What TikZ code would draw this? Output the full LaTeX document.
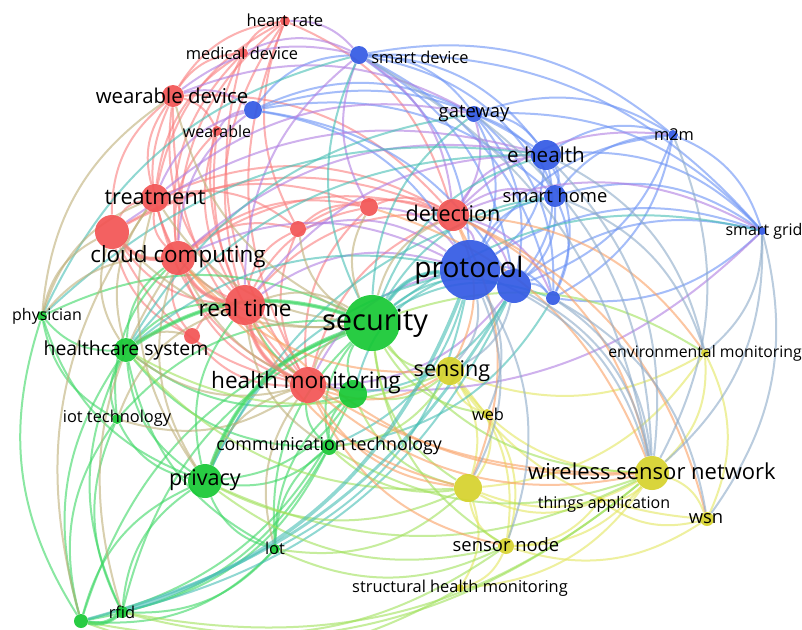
\documentclass[tikz,border=0pt]{standalone}
\usepackage{fontspec}
\setmainfont{Open Sans}
\usepackage{tikz}
\usetikzlibrary{calc}
\usetikzlibrary{backgrounds}

\definecolor{redN}{RGB}{243,84,84}
\definecolor{blueN}{RGB}{50,90,228}
\definecolor{greenN}{RGB}{22,200,52}
\definecolor{yellowN}{RGB}{214,210,44}
\definecolor{redE}{RGB}{250,125,125}
\definecolor{blueE}{RGB}{105,145,245}
\definecolor{greenE}{RGB}{60,215,100}
\definecolor{yellowE}{RGB}{228,230,95}
\definecolor{purpleE}{RGB}{175,125,225}
\definecolor{tealE}{RGB}{70,190,180}
\definecolor{oliveE}{RGB}{190,175,120}
\definecolor{limeE}{RGB}{160,225,90}
\definecolor{orangeE}{RGB}{250,160,100}
\definecolor{greyE}{RGB}{140,170,200}

\tikzset{
  bubble/.style={circle, inner sep=0pt, minimum size=#1pt, fill opacity=.92},
  redb/.style={bubble=#1, fill=redN},
  blueb/.style={bubble=#1, fill=blueN},
  greenb/.style={bubble=#1, fill=greenN},
  yellowb/.style={bubble=#1, fill=yellowN},
  lbl/.style={inner sep=0pt, text=black, font=\fontsize{#1}{#1}\selectfont},
  link/.style={line width=1pt, draw opacity=.6},
  rr/.style={link, draw=redE},
  bb/.style={link, draw=blueE},
  gg/.style={link, draw=greenE},
  yy/.style={link, draw=yellowE},
  rb/.style={link, draw=purpleE},
  gb/.style={link, draw=tealE},
  gr/.style={link, draw=oliveE},
  gy/.style={link, draw=limeE},
  ry/.style={link, draw=orangeE},
  by/.style={link, draw=greyE}
}

% curved links, bulging away from the middle of the map
\newcommand\linkset[2]{%
  \foreach \a/\b in {#2}{%
    \draw[#1] let \p1=($(\b)-(\a)$), \p2=($(ctr)-(\a)$),
      \n1={(\x1/100*\y2/100-\y1/100*\x2/100>0) ? -25 : 25} in
      (\a) to[bend left=\n1] (\b);
  }}

\begin{document}
\begin{tikzpicture}[x=0.5pt, y=-0.5pt]
  \useasboundingbox (0,0) rectangle (802,629);
  \coordinate (ctr) at (420,330);

  % red cluster
  \node[redb=5] (hr) at (285,21) {};
  \node[redb=5] (md) at (243,53) {};
  \node[redb=11] (wd) at (173,96) {};
  \node[redb=5] (wr) at (217,131) {};
  \node[redb=14] (tr) at (155,198) {};
  \node[redb=17] (r1) at (112,232) {};
  \node[redb=17] (cc) at (178,258) {};
  \node[redb=8] (r2) at (298,229) {};
  \node[redb=9] (r3) at (369,207) {};
  \node[redb=16] (det) at (453,215) {};
  \node[redb=20] (rt) at (245,305) {};
  \node[redb=8] (r4) at (192,336) {};
  \node[redb=18] (hm) at (308,385) {};

  % blue cluster
  \node[blueb=9] (sd) at (359,55) {};
  \node[blueb=9] (wb) at (253,110) {};
  \node[blueb=8] (gw) at (474,114) {};
  \node[blueb=15] (eh) at (546,155) {};
  \node[blueb=11] (sh) at (555,196) {};
  \node[blueb=5] (mm) at (673,135) {};
  \node[blueb=4] (sg) at (762,231) {};
  \node[blueb=30] (pr) at (470,270) {};
  \node[blueb=17] (b1) at (514,286) {};
  \node[blueb=7] (b2) at (553,298) {};

  % green cluster
  \node[greenb=28] (sec) at (372,323) {};
  \node[greenb=5] (phy) at (42,316) {};
  \node[greenb=12] (hcs) at (126,350) {};
  \node[greenb=5] (iott) at (117,419) {};
  \node[greenb=14] (g1) at (353,394) {};
  \node[greenb=8] (ct) at (329,447) {};
  \node[greenb=17] (prv) at (205,481) {};
  \node[greenb=5] (lot) at (275,549) {};
  \node[greenb=6] (rfid) at (122,612) {};
  \node[greenb=7] (g2) at (81,621) {};

  % yellow cluster
  \node[yellowb=14] (sen) at (450,371) {};
  \node[yellowb=5] (web) at (487,414) {};
  \node[yellowb=14] (y1) at (468,488) {};
  \node[yellowb=4] (env) at (705,353) {};
  \node[yellowb=17] (wsnet) at (652,473) {};
  \node[yellowb=3] (ta) at (600,500) {};
  \node[yellowb=7] (wsn) at (707,519) {};
  \node[yellowb=8] (sn) at (506,546) {};
  \node[yellowb=4] (shm) at (460,588) {};

  \begin{scope}[on background layer]
    \fill[white] (0,0) rectangle (802,629);
    \linkset{rr}{hr/md, hr/wd, hr/tr, hr/cc, hr/rt, hr/hm, hr/det, hr/r2, md/wd, md/cc, md/rt, md/hm, md/tr, wd/tr, wd/r1, wd/cc, wd/rt, wd/hm, wd/wr, wd/det, wr/cc, wr/rt, wr/hm, tr/r1, tr/cc, tr/rt, tr/hm, tr/det, tr/r2, r1/cc, r1/rt, r1/hm, r1/det, r1/r4, r1/r3, cc/rt, cc/hm, cc/det, cc/r2, cc/r3, cc/r4, r2/rt, r2/hm, r3/hm, r3/rt, r3/det, det/rt, det/hm, rt/hm, rt/r4, r4/hm, r2/det, r2/r3}
    \linkset{bb}{sd/gw, sd/eh, sd/sh, sd/pr, sd/b1, sd/b2, sd/wb, sd/mm, sd/sg, wb/gw, wb/eh, wb/pr, wb/b1, wb/sh, gw/eh, gw/sh, gw/pr, gw/b1, gw/b2, gw/mm, gw/sg, eh/sh, eh/pr, eh/b1, eh/mm, eh/sg, eh/b2, sh/pr, sh/b1, sh/sg, sh/mm, sh/b2, mm/sg, mm/pr, mm/b1, sg/pr, sg/b1, sg/b2, pr/b1, pr/b2, b1/b2, mm/b2}
    \linkset{gg}{sec/phy, sec/hcs, sec/iott, sec/g1, sec/ct, sec/prv, sec/lot, sec/rfid, sec/g2, phy/hcs, phy/prv, phy/g2, phy/iott, hcs/iott, hcs/prv, hcs/ct, hcs/g1, hcs/rfid, hcs/g2, hcs/lot, iott/prv, iott/g2, iott/rfid, g1/ct, g1/prv, ct/prv, ct/lot, prv/lot, prv/rfid, prv/g2, lot/rfid, lot/g2, rfid/g2, ct/g2, g1/g2, ct/rfid, g1/lot, hcs/rt, g1/rt, prv/rt, iott/cc, ct/hm, hcs/cc}
    \linkset{yy}{sen/web, sen/y1, sen/wsnet, sen/sn, sen/env, web/y1, web/sn, y1/wsnet, y1/sn, y1/ta, wsnet/ta, wsnet/wsn, wsnet/sn, wsnet/env, wsn/env, wsn/ta, sn/shm, y1/shm, sn/ta, env/y1, wsnet/shm, sn/wsn, sen/wsn}
    \linkset{rb}{det/pr, det/b1, det/eh, det/gw, det/sd, det/sh, det/b2, wd/sd, wd/wb, hm/pr, rt/pr, cc/pr, cc/wb, hr/sd, md/sd, tr/wb, r3/pr, r3/sd, hm/b1, cc/eh, wr/wb, rt/sd, r2/pr, tr/gw, r1/eh, hm/sg, det/sg, wd/gw, rt/eh, det/mm}
    \linkset{gb}{sec/pr, sec/b1, sec/eh, sec/sh, sec/gw, sec/sd, hcs/pr, prv/pr, lot/pr, ct/pr, g1/pr, sec/sg, hcs/eh, phy/eh, sec/b2, g1/b1, prv/sh, rfid/b1, ct/b2, hcs/gw, phy/sd}
    \linkset{gr}{sec/rt, sec/hm, sec/cc, sec/det, hcs/tr, phy/tr, phy/cc, phy/wd, prv/hm, prv/cc, g1/hm, rfid/cc, g2/tr, lot/hm, hcs/hm, hcs/r4, sec/r1, sec/tr, sec/r2, sec/r3, g1/cc, ct/rt, iott/rt, prv/tr, sec/wd, hcs/r1, phy/r1, iott/hm}
    \linkset{gy}{sec/sen, sec/web, sec/y1, sec/wsnet, prv/y1, prv/sn, g2/shm, rfid/sn, lot/y1, hcs/y1, ct/y1, ct/sen, sec/env, g1/sen, rfid/wsnet, g1/y1, ct/wsnet, prv/wsnet, sec/sn, hcs/sen, lot/sn, g2/wsnet}
    \linkset{ry}{det/y1, det/wsnet, rt/y1, hm/y1, hm/sen, cc/wsnet, det/wsn, rt/wsnet, det/env, hm/wsnet, r3/wsnet, hm/sn, cc/sen, det/sen}
    \linkset{by}{pr/wsnet, pr/sen, pr/y1, b1/wsnet, sg/wsnet, sg/wsn, mm/wsnet, eh/env, b2/wsnet, pr/web, b1/sen, sh/env, pr/sn, sg/env, gw/wsnet, b2/wsn, eh/wsnet, sd/wsnet}
    \linkset{gb, line width=2pt}{sec/pr}
    \linkset{gg, line width=2pt}{sec/hcs, sec/prv, rfid/g2}
    \linkset{rr, line width=2pt}{cc/rt, rt/hm, r1/cc}
    \draw[gb, line width=1.8pt] (rfid) to[bend right=25] (pr);
    \draw[gb, line width=1.4pt] (g2) to[bend right=22] (b1);
  \end{scope}

  % labels
  \node[lbl=8.3] (hrL) at (285,20) {heart rate};
  \node[lbl=8.2] (mdL) at (242,53) {medical device};
  \node[lbl=10.2] (wdL) at (172,96) {wearable device};
  \node[lbl=8] (wrL) at (217,131) {wearable};
  \node[lbl=8.2] (sdL) at (420,57) {smart device};
  \node[lbl=9.2] (gwL) at (474,114) {gateway};
  \node[lbl=10.3] (ehL) at (546,155) {e health};
  \node[lbl=8.2] (mmL) at (674,135) {m2m};
  \node[lbl=9.2] (shL) at (555,196) {smart home};
  \node[lbl=8] (sgL) at (764,231) {smart grid};
  \node[lbl=10.8] (trL) at (155,197) {treatment};
  \node[lbl=10.8] (detL) at (453,213) {detection};
  \node[lbl=11.2] (ccL) at (178,257) {cloud computing};
  \node[lbl=14] (prL) at (469,270) {protocol};
  \node[lbl=11.3] (rtL) at (245,308) {real time};
  \node[lbl=8] (phyL) at (47,316) {physician};
  \node[lbl=14.5] (secL) at (375,323) {security};
  \node[lbl=9.7] (hcsL) at (126,350) {healthcare system};
  \node[lbl=7.9] (envL) at (705,353) {environmental monitoring};
  \node[lbl=11.3] (hmL) at (306,383) {health monitoring};
  \node[lbl=10.8] (senL) at (452,371) {sensing};
  \node[lbl=8.2] (iottL) at (117,418) {iot technology};
  \node[lbl=8.2] (webL) at (488,414) {web};
  \node[lbl=8.9] (ctL) at (329,446) {communication technology};
  \node[lbl=11] (wsnetL) at (652,471) {wireless sensor network};
  \node[lbl=10.8] (prvL) at (205,480) {privacy};
  \node[lbl=8] (taL) at (604,504) {things application};
  \node[lbl=9.2] (wsnL) at (706,519) {wsn};
  \node[lbl=9.2] (snL) at (506,545) {sensor node};
  \node[lbl=8.2] (lotL) at (275,548) {lot};
  \node[lbl=8.2] (shmL) at (460,588) {structural health monitoring};
  \node[lbl=8.2] (rfidL) at (122,612) {rfid};
\end{tikzpicture}
\end{document}
